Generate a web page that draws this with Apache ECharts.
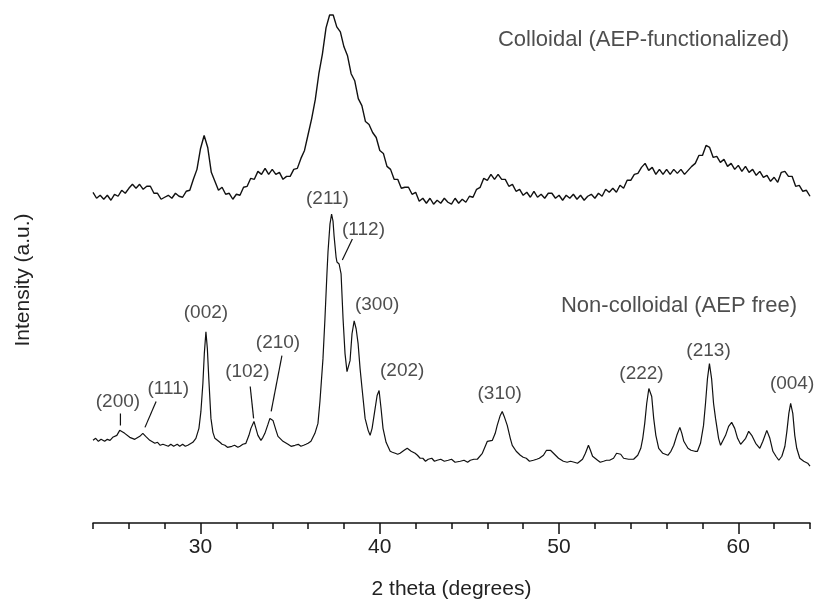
<!DOCTYPE html>
<html>
<head>
<meta charset="utf-8">
<script src="https://cdn.jsdelivr.net/npm/echarts@6/dist/echarts.min.js"></script>
<style>html,body{margin:0;padding:0;background:#fff}#c{width:815px;height:605px}</style>
</head>
<body>
<div id="c"></div>
<script>
// ---------- data ----------
const thetaStart = 24;   // 2θ of first colloidal sample (deg)
const thetaStep = 0.2;   // sampling step of colloidal scan (deg)
const colloidalIntensity = [
 332,326,329,325,329,324,330,328,334,331,336,340,336,340,335,338,338,331,331,325,327,
 329,326,331,328,327,333,334,345,355,376,389,377,352,343,334,337,330,331,325,330,
 329,337,338,346,345,353,350,356,350,355,350,352,345,348,348,355,356,366,374,390,
 406,425,451,471,497,510,510,498,493,478,469,451,444,426,419,403,400,392,387,374,
 371,358,355,345,345,336,337,337,330,332,323,326,321,326,320,324,321,326,322,320,
 326,321,325,322,328,327,335,337,346,344,350,345,350,345,345,338,340,333,335,329,
 332,327,333,327,330,326,331,331,326,329,324,329,326,330,325,329,324,328,330,326,
 331,328,335,332,336,332,339,336,344,344,350,351,357,361,354,357,350,355,350,355,
 350,355,351,355,350,354,358,361,369,369,379,377,367,368,362,365,358,361,355,359,
 353,358,352,355,349,353,347,349,343,347,342,352,353,348,348,338,339,333,334,328
];
const nonColloidal = [
 [24.00,83],[24.15,85],[24.30,82],[24.45,84],[24.65,82],[24.80,84],[24.95,83],[25.10,86],[25.33,88],[25.49,93],
 [25.60,92],[25.77,90],[26.05,86],[26.33,84],[26.61,87],[26.78,90],[26.94,87],[27.17,83],[27.45,80],[27.60,81],
 [27.75,78],[27.90,79],[28.00,80],[28.20,77],[28.34,79],[28.50,77],[28.70,79],[28.84,77],[29.00,79],[29.15,77],
 [29.29,78],[29.40,80],[29.57,81],[29.74,85],[29.91,95],[30.02,112],[30.13,140],[30.21,170],[30.30,192],[30.38,175],
 [30.46,145],[30.58,105],[30.69,91],[30.80,85],[31.08,81],[31.20,79],[31.36,78],[31.50,76],[31.75,77],[31.90,78],
 [32.08,76],[32.20,77],[32.36,79],[32.53,80],[32.70,88],[32.81,95],[32.98,102],[33.09,95],[33.20,88],[33.37,83],
 [33.48,86],[33.59,90],[33.76,99],[33.87,105],[34.04,103],[34.21,93],[34.32,87],[34.60,82],[34.88,79],[35.05,77],
 [35.27,78],[35.45,79],[35.60,77],[35.75,78],[35.88,79],[36.00,80],[36.16,82],[36.38,90],[36.55,100],[36.66,122],
 [36.83,165],[36.94,205],[37.05,250],[37.11,272],[37.22,300],[37.31,310],[37.39,303],[37.45,288],[37.56,267],[37.61,262],
 [37.73,260],[37.84,250],[37.95,205],[38.06,170],[38.17,152],[38.26,153],[38.34,163],[38.45,190],[38.57,203],[38.68,195],
 [38.79,180],[38.90,155],[39.01,135],[39.18,105],[39.35,93],[39.46,88],[39.57,95],[39.74,115],[39.85,128],[39.96,133],
 [40.07,115],[40.18,95],[40.35,81],[40.58,72],[40.70,71],[40.86,70],[41.00,69],[41.13,70],[41.36,73],[41.53,75],
 [41.75,72],[41.97,70],[42.10,68],[42.25,65],[42.40,65],[42.55,62],[42.70,64],[42.90,65],[43.05,62],[43.20,63],
 [43.40,64],[43.60,62],[43.82,63],[44.00,64],[44.20,61],[44.49,62],[44.70,63],[44.90,61],[45.05,63],[45.25,64],
 [45.44,64],[45.72,70],[46.00,82],[46.28,83],[46.44,90],[46.55,98],[46.72,108],[46.83,112],[46.94,107],[47.11,98],
 [47.28,85],[47.39,78],[47.61,72],[47.84,68],[48.00,66],[48.17,65],[48.35,62],[48.57,63],[48.75,64],[48.90,65],
 [49.13,68],[49.30,73],[49.41,75],[49.52,73],[49.69,70],[49.97,65],[50.24,62],[50.45,61],[50.64,62],[50.85,61],
 [51.03,60],[51.31,64],[51.47,70],[51.64,78],[51.75,73],[51.87,67],[52.15,63],[52.30,61],[52.48,62],[52.65,63],
 [52.82,63],[53.04,65],[53.21,70],[53.32,72],[53.44,69],[53.60,65],[53.88,64],[54.16,64],[54.39,68],[54.56,75],
 [54.67,85],[54.78,100],[54.89,120],[55.01,135],[55.09,137],[55.17,127],[55.28,105],[55.40,88],[55.56,75],[55.79,70],
 [56.07,68],[56.24,72],[56.40,78],[56.57,88],[56.74,96],[56.85,90],[56.96,82],[57.19,75],[57.36,73],[57.58,72],
 [57.72,72],[57.89,80],[58.06,98],[58.17,120],[58.28,145],[58.39,160],[58.51,145],[58.62,120],[58.73,105],[58.90,85],
 [59.01,78],[59.12,80],[59.29,88],[59.46,97],[59.63,101],[59.80,95],[59.96,85],[60.13,79],[60.24,78],[60.41,85],
 [60.58,92],[60.75,88],[60.97,80],[61.20,75],[61.37,82],[61.59,93],[61.76,85],[61.93,72],[62.10,67],[62.26,63],
 [62.43,67],[62.60,77],[62.71,92],[62.82,110],[62.92,120],[63.04,110],[63.15,88],[63.26,75],[63.43,65],[63.50,63],
 [63.65,62],[63.75,61],[63.87,60],[64.00,57]
];
// peak (Miller index) labels: text, 2θ, label height (intensity units)
const peakNames = ['(200)','(111)','(002)','(102)','(210)','(211)','(112)','(300)','(202)','(310)','(222)','(213)','(004)'];
const peakLabelTheta = [25.39,28.2,30.3,32.61,34.32,37.08,39.09,39.85,41.25,46.69,54.6,58.34,63.0];
const peakLabelLevel = [122,135,211,152,181,325,294,219,153,130,150,173,140];
// leader lines: [θ1, I1, θ2, I2]
const leaderLines = [
 [25.53,110,25.53,98],
 [27.52,122,26.90,96],
 [32.77,137,32.96,105],
 [34.54,168,33.94,112],
 [38.47,285,37.91,264]
];
const sampleNames = ['Colloidal (AEP-functionalized)','Non-colloidal (AEP free)'];
const sampleLabelTheta = [54.71,56.69];
const sampleLabelLevel = [485,218];
const majorTicks = [30,40,50,60];
const xName = '2 theta (degrees)';
const yName = 'Intensity (a.u.)';

// ---------- chart ----------
const FONT = '"Liberation Sans", Arial, Helvetica, sans-serif';
const colloidal = colloidalIntensity.map((v,i)=>[+(thetaStart + i*thetaStep).toFixed(2), v]);
const lineCol = '#111';

const series = [
 {type:'line', data: colloidal, showSymbol:false, xAxisIndex:0,
  lineStyle:{color:lineCol,width:1.4}, animation:false, z:3},
 {type:'line', data: nonColloidal, showSymbol:false, xAxisIndex:0,
  lineStyle:{color:lineCol,width:1.2}, animation:false, z:3}
];
leaderLines.forEach(l=>{
 series.push({type:'line', data:[[l[0],l[1]],[l[2],l[3]]], showSymbol:false, xAxisIndex:0,
  lineStyle:{color:lineCol,width:1.2}, animation:false, silent:true});
});
series.push({type:'scatter', xAxisIndex:0, symbolSize:1, itemStyle:{color:'rgba(0,0,0,0)'}, animation:false, silent:true,
 data: peakNames.map((n,i)=>({value:[peakLabelTheta[i], peakLabelLevel[i]], name:n})),
 label:{show:true, position:'inside', formatter:p=>p.name, color:'#222', fontSize:19, fontFamily:FONT}});
series.push({type:'scatter', xAxisIndex:0, symbolSize:1, itemStyle:{color:'rgba(0,0,0,0)'}, animation:false, silent:true,
 data: sampleNames.map((n,i)=>({value:[sampleLabelTheta[i], sampleLabelLevel[i]], name:n})),
 label:{show:true, position:'inside', formatter:p=>p.name, color:'#222', fontSize:22, fontFamily:FONT}});

const chart = echarts.init(document.getElementById('c'), null, {renderer:'canvas'});
chart.setOption({
 animation:false,
 backgroundColor:'#fff',
 grid:{left:93, right:5, top:5, bottom:80, containLabel:false},
 xAxis:[
  {type:'value', min:24, max:64, interval:2, position:'bottom',
   axisLine:{show:true, lineStyle:{color:'#111', width:1.5}},
   axisTick:{show:true, length:6, lineStyle:{color:'#111', width:1.5}},
   axisLabel:{formatter:v=> (v%10===0 ? String(v) : ''), fontSize:21, color:'#222', margin:14, fontFamily:FONT},
   splitLine:{show:false},
   name:xName, nameLocation:'middle', nameGap:56,
   nameTextStyle:{fontSize:21, color:'#222', fontFamily:FONT}},
  {type:'value', min:24, max:64, position:'bottom',
   axisLine:{show:false},
   axisTick:{show:true, length:11, customValues:majorTicks, lineStyle:{color:'#111', width:1.5}},
   axisLabel:{show:false}, splitLine:{show:false}}
 ],
 yAxis:{type:'value', min:0, max:520, show:false},
 graphic:[{type:'text', x:23, y:280, rotation:Math.PI/2,
  style:{text:yName, font:'21px ' + FONT, fill:'#222', textAlign:'center', textVerticalAlign:'middle'}}],
 series: series
});
</script>
</body>
</html>
